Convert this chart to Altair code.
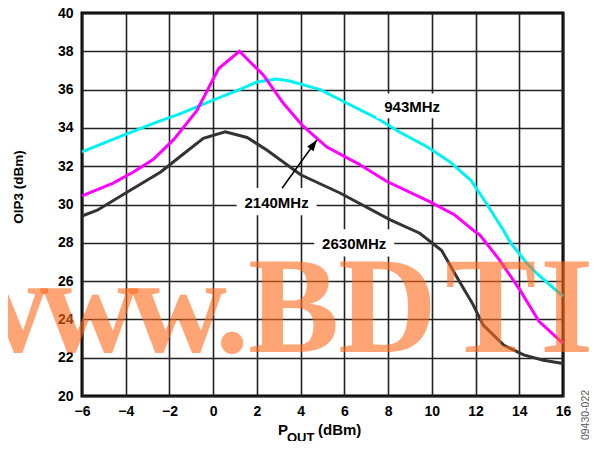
import altair as alt
import pandas as pd

# ---- data ----
x_943 = [-6, -4.7, -2.7, -1.5, 0, 1.2, 2.0, 2.9, 3.5, 4.9, 6.1, 7.5, 8.5, 9.8, 10.8, 11.8, 12.5, 13.3, 13.6, 14.3, 14.8, 16]
y_943 = [32.75, 33.35, 34.25, 34.75, 35.45, 36.0, 36.4, 36.55, 36.45, 36.0, 35.3, 34.5, 33.8, 33.0, 32.25, 31.25, 30.05, 28.6, 28.0, 27.0, 26.4, 25.2]

x_2140 = [-6, -4.6, -3.65, -2.75, -1.8, -0.75, 0.25, 1.2, 2.3, 3.2, 4.1, 5.2, 6.6, 7.95, 9.9, 11.05, 11.9, 12.2, 13.1, 14.05, 14.9, 16]
y_2140 = [30.45, 31.1, 31.7, 32.35, 33.4, 34.9, 37.1, 38.0, 36.75, 35.3, 34.1, 33.0, 32.15, 31.2, 30.15, 29.45, 28.65, 28.4, 27.1, 25.5, 23.9, 22.75]

x_2630 = [-6, -5.3, -4, -2.4, -1.35, -0.45, 0.55, 1.55, 2.45, 4.0, 5.8, 8.1, 9.45, 10.45, 11.15, 11.85, 12.35, 13.3, 14.2, 15.1, 16]
y_2630 = [29.4, 29.7, 30.6, 31.7, 32.65, 33.45, 33.8, 33.5, 32.85, 31.55, 30.6, 29.2, 28.5, 27.6, 26.2, 24.85, 23.7, 22.65, 22.15, 21.87, 21.7]

series_names = ["943MHz", "2140MHz", "2630MHz"]
series_colors = ["#00F2F2", "#FF00FF", "#333333"]

x_ticks = list(range(-6, 17, 2))
y_ticks = list(range(20, 41, 2))

label_text = ["943MHz", "2140MHz", "2630MHz"]
label_x = [9.1, 2.9, 6.45]
label_y = [35.15, 30.15, 28.0]
label_box = [5200, 6400, 6400]

arrow_x = [3.15, 4.74]
arrow_y = [30.85, 33.37]

wm_letters = ["w", "w", "w", ".", "B", "D", "T", "I", "C"]
wm_left = [-132, -42, 46, 133, 166, 256, 363, 458, 506]

# ---- tables ----
rows = []
for name, xs_, ys_ in [("943MHz", x_943, y_943), ("2140MHz", x_2140, y_2140), ("2630MHz", x_2630, y_2630)]:
    for i, (a, b) in enumerate(zip(xs_, ys_)):
        rows.append({"series": name, "x": a, "y": b, "order": i})
df = pd.DataFrame(rows)
lab = pd.DataFrame({"text": label_text, "x": label_x, "y": label_y, "box": label_box})
arr = pd.DataFrame({"x": [arrow_x[0]], "y": [arrow_y[0]], "x2": [arrow_x[1]], "y2": [arrow_y[1]]})
wm = pd.DataFrame({"ch": wm_letters, "px": wm_left})
one = pd.DataFrame({"a": [0]})

W, H = 481, 383
xs = alt.Scale(domain=[-6, 16], nice=False)
ys = alt.Scale(domain=[20, 40], nice=False)

xax = alt.Axis(values=x_ticks, grid=True, ticks=False, domain=False, title=None,
               labelFlush=False, labelOverlap=False, labelPadding=8)
yax = alt.Axis(values=y_ticks, grid=True, ticks=False, domain=False, title=None,
               labelFlush=False, labelOverlap=False, labelPadding=9)


def X(field):
    return alt.X(field, scale=xs, axis=xax)


def Y(field):
    return alt.Y(field, scale=ys, axis=yax)


lines = alt.Chart(df).mark_line(strokeWidth=3).encode(
    x=X("x:Q"),
    y=Y("y:Q"),
    color=alt.Color("series:N", scale=alt.Scale(domain=series_names, range=series_colors), legend=None),
    order="order:Q",
)

boxes = alt.Chart(lab).mark_point(
    shape="M-1,-0.34L1,-0.34L1,0.34L-1,0.34Z", filled=True, color="white", opacity=1, strokeWidth=0
).encode(x=X("x:Q"), y=Y("y:Q"), size=alt.Size("box:Q", scale=None))

texts = alt.Chart(lab).mark_text(
    font="Liberation Sans", fontWeight="bold", fontSize=15, color="black", baseline="middle", align="center", dy=1
).encode(x=X("x:Q"), y=Y("y:Q"), text="text:N")

arrow_line = alt.Chart(arr).mark_rule(color="black", strokeWidth=1.5).encode(
    x=X("x:Q"), y=Y("y:Q"), x2="x2:Q", y2="y2:Q")

arrow_head = alt.Chart(arr).mark_point(
    shape="M0,0L-0.36,1L0.36,1Z", filled=True, color="black", opacity=1, size=480, angle=36, strokeWidth=0
).encode(x=X("x2:Q"), y=Y("y2:Q"))

watermark = alt.Chart(wm).mark_text(
    font="Liberation Serif", fontWeight="bold", fontSize=137,
    color="#FF6A1A", opacity=0.6, align="left", baseline="alphabetic"
).encode(x=alt.X("px:Q", scale=None), y=alt.value(339), text="ch:N")

ytitle = alt.Chart(one).mark_text(
    text="OIP3 (dBm)", font="Liberation Sans", fontWeight="bold", fontSize=13.5,
    angle=270, align="center", baseline="middle", color="black"
).encode(x=alt.value(-63), y=alt.value(174))

xt_p = alt.Chart(one).mark_text(
    text="P", font="Liberation Sans", fontWeight="bold", fontSize=15, align="left", baseline="alphabetic", color="black"
).encode(x=alt.value(196), y=alt.value(422))
xt_out = alt.Chart(one).mark_text(
    text="OUT", font="Liberation Sans", fontWeight="bold", fontSize=13, align="left", baseline="alphabetic", color="black"
).encode(x=alt.value(205), y=alt.value(429))
xt_dbm = alt.Chart(one).mark_text(
    text="(dBm)", font="Liberation Sans", fontWeight="bold", fontSize=15, align="left", baseline="alphabetic", color="black"
).encode(x=alt.value(236), y=alt.value(422))

code = alt.Chart(one).mark_text(
    text="09430-022", font="Liberation Sans", fontSize=10.5, angle=270, align="center",
    baseline="middle", color="#555555"
).encode(x=alt.value(504), y=alt.value(402))

chart = alt.layer(
    lines, boxes, texts, arrow_line, arrow_head, watermark, ytitle, xt_p, xt_out, xt_dbm, code
).properties(
    width=W, height=H,
    autosize=alt.AutoSizeParams(type="none"),
    padding={"left": 74, "top": 5, "right": 26, "bottom": 45},
    background="white",
).configure_view(
    stroke="black", strokeWidth=3
).configure_axis(
    gridColor="#222222", gridWidth=1.6, gridOpacity=1,
    labelFont="Liberation Sans", labelFontWeight="bold", labelFontSize=14, labelColor="black",
)

chart.save("out.html", embed_options={"renderer": "svg", "actions": False})
